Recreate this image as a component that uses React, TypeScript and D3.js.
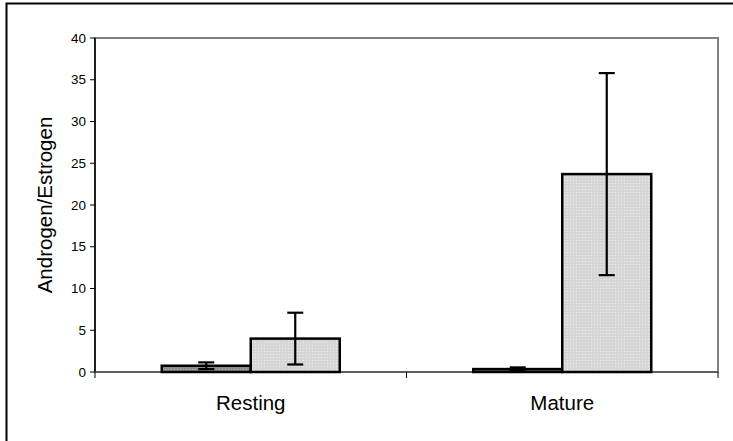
import React from "react";
import * as d3 from "d3";

const categories = ["Resting", "Mature"];
const seriesNames = ["Dark", "Light"];
const darkValues = [0.75, 0.35];
const darkErrors = [0.4, 0.2];
const lightValues = [4.0, 23.7];
const lightErrors = [3.1, 12.1];
const yTicks = [0, 5, 10, 15, 20, 25, 30, 35, 40];

const width = 733;
const height = 441;
const margin = { top: 38, right: 15, bottom: 69, left: 95 };

const font = "'Liberation Sans', Arial, sans-serif";

export default function App() {
  const innerRight = width - margin.right;
  const innerBottom = height - margin.bottom;

  const x = d3
    .scaleBand()
    .domain(categories)
    .range([margin.left, innerRight])
    .padding(0);

  const y = d3
    .scaleLinear()
    .domain([0, 40])
    .range([innerBottom, margin.top]);

  // two bars per group, gap width 150% of one bar
  const barW = x.bandwidth() / 3.5;
  const sub = d3
    .scaleBand()
    .domain(seriesNames)
    .range([0, barW * 2]);

  const series = [
    { name: "Dark", values: darkValues, errors: darkErrors, fill: "url(#darkDots)" },
    { name: "Light", values: lightValues, errors: lightErrors, fill: "url(#lightDots)" }
  ];

  const xTickPos = [...categories.map(c => x(c)), innerRight];

  return (
    <svg
      width={width}
      height={height}
      style={{ position: "absolute", left: 0, top: 0, background: "#fff" }}
    >
      <defs>
        <pattern id="darkDots" width="3" height="3" patternUnits="userSpaceOnUse">
          <rect width="3" height="3" fill="#8c8c8c" />
          <rect width="1" height="1" fill="#b4b4b4" />
        </pattern>
        <pattern id="lightDots" width="3" height="3" patternUnits="userSpaceOnUse">
          <rect width="3" height="3" fill="#d6d6d6" />
          <rect width="1" height="1" fill="#ececec" />
        </pattern>
      </defs>

      {/* outer chart frame, cut off at right and bottom */}
      <rect x={6.5} y={3.5} width={width + 10} height={height + 10} fill="none" stroke="#000" strokeWidth={2} />

      {/* plot area border */}
      <rect
        x={margin.left}
        y={margin.top}
        width={innerRight - margin.left}
        height={innerBottom - margin.top}
        fill="none"
        stroke="#808080"
        strokeWidth={2}
      />

      {/* y axis */}
      <line x1={margin.left} x2={margin.left} y1={margin.top} y2={innerBottom} stroke="#000" strokeWidth={1.5} />
      {yTicks.map(t => (
        <g key={t} transform={`translate(0,${y(t)})`}>
          <line x1={margin.left - 5} x2={margin.left} stroke="#000" strokeWidth={1} />
          <text
            x={margin.left - 9}
            dy="0.35em"
            textAnchor="end"
            fontFamily={font}
            fontSize={13.5}
          >
            {t}
          </text>
        </g>
      ))}

      {/* x axis */}
      <line x1={margin.left} x2={innerRight} y1={innerBottom} y2={innerBottom} stroke="#555" strokeWidth={1.5} />
      {xTickPos.map((p, i) => (
        <line key={i} x1={p} x2={p} y1={innerBottom} y2={innerBottom + 6} stroke="#000" strokeWidth={1} />
      ))}
      {categories.map(c => (
        <text
          key={c}
          x={(x(c) as number) + x.bandwidth() / 2}
          y={innerBottom + 38}
          textAnchor="middle"
          fontFamily={font}
          fontSize={20.5}
        >
          {c}
        </text>
      ))}

      {/* bars */}
      {series.map(s =>
        categories.map((c, i) => {
          const left = (x(c) as number) + (x.bandwidth() - barW * 2) / 2 + (sub(s.name) as number);
          return (
            <rect
              key={s.name + c}
              x={left}
              y={y(s.values[i])}
              width={sub.bandwidth()}
              height={y(0) - y(s.values[i])}
              fill={s.fill}
              stroke="#000"
              strokeWidth={2.5}
            />
          );
        })
      )}

      {/* error bars */}
      {series.map(s =>
        categories.map((c, i) => {
          const cx = (x(c) as number) + (x.bandwidth() - barW * 2) / 2 + (sub(s.name) as number) + sub.bandwidth() / 2;
          const hi = y(s.values[i] + s.errors[i]);
          const lo = y(s.values[i] - s.errors[i]);
          return (
            <g key={"e" + s.name + c} stroke="#000" strokeWidth={2.2}>
              <line x1={cx} x2={cx} y1={hi} y2={lo} />
              <line x1={cx - 8} x2={cx + 8} y1={hi} y2={hi} />
              <line x1={cx - 8} x2={cx + 8} y1={lo} y2={lo} />
            </g>
          );
        })
      )}

      {/* y axis title */}
      <text
        transform={`translate(52,${(margin.top + innerBottom) / 2}) rotate(-90)`}
        textAnchor="middle"
        fontFamily={font}
        fontSize={20.5}
      >
        Androgen/Estrogen
      </text>
    </svg>
  );
}
